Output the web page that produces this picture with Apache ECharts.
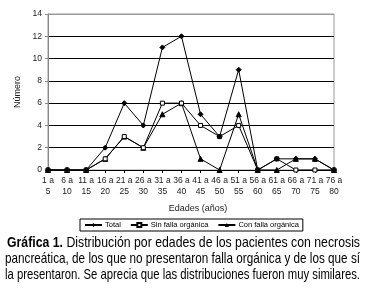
<!DOCTYPE html>
<html><head><meta charset="utf-8">
<script src="https://cdn.jsdelivr.net/npm/echarts@6/dist/echarts.min.js"></script>
<style>html,body{margin:0;padding:0;background:#fff}#c{width:365px;height:295px}</style>
</head><body><div id="c"></div>
<script>
var categories = ['1 a\n5','6 a\n10','11 a\n15','16 a\n20','21 a\n25','26 a\n30','31 a\n35','36 a\n40','41 a\n45','46 a\n50','51 a\n55','56 a\n60','61 a\n65','66 a\n70','71 a\n75','76 a\n80'];
var total      = [0,0,0,2,6,4,11,12,5,3,9,0,1,1,1,0];
var sinFalla   = [0,0,0,1,3,2,6,6,4,3,4,0,1,0,0,0];
var conFalla   = [0,0,0,1,3,2,5,6,1,0,5,0,0,1,1,0];
var yTicks = {min:0, max:14, interval:2};
var captionLines = [
  ['Gráfica 1.', ' Distribución por edades de los pacientes con necrosis'],
  ['', 'pancreática, de los que no presentaron falla orgánica y de los que sí'],
  ['', 'la presentaron. Se aprecia que las distribuciones fueron muy similares.']
];

var FONT = 'Liberation Sans, Arial, sans-serif';
var ctx = document.createElement('canvas').getContext('2d');
function w(t, f){ ctx.font = f; return ctx.measureText(t).width; }
var capSize = 14.5;
var bf = 'bold ' + capSize + 'px ' + FONT, nf = capSize + 'px ' + FONT;
var graphics = [];
var baselines = [250, 266, 282];
var lefts = [7, 5, 5], right = 360;
captionLines.forEach(function(l, i){
  var mw = w(l[0], bf) + w(l[1], nf);
  var sx = (right - lefts[i]) / mw;
  graphics.push({
    type: 'text', x: lefts[i], y: baselines[i], scaleX: sx,
    style: {
      text: (l[0] ? '{b|' + l[0] + '}' : '') + '{n|' + l[1] + '}',
      verticalAlign: 'bottom',
      rich: {
        b: {font: bf, fill: '#000'},
        n: {font: nf, fill: '#000'}
      }
    }
  });
});

var chart = echarts.init(document.getElementById('c'), null, {renderer:'canvas'});
chart.setOption({
  animation: false,
  backgroundColor: '#fff',
  grid: {left: 48, right: 31, top: 14, bottom: 125, show: true, borderColor: '#999', borderWidth: 1},
  legend: {
    left: 80, top: 219,
    itemWidth: 17, itemHeight: 5, itemGap: 9,
    padding: [2, 4],
    borderColor: '#000', borderWidth: 1,
    textStyle: {fontSize: 7.5, fontFamily: FONT, color: '#000', padding: [0,0,0,-2]},
    data: ['Total', 'Sin falla orgánica', 'Con falla orgánica']
  },
  xAxis: {
    type: 'category', data: categories, boundaryGap: false,
    name: 'Edades (años)', nameLocation: 'middle', nameGap: 34,
    nameTextStyle: {fontSize: 9, fontFamily: FONT, color: '#222', padding: [0,0,0,14]},
    axisLine: {lineStyle: {color: '#000', width: 1}},
    axisTick: {show: true, length: 3, lineStyle: {color: '#000'}},
    axisLabel: {fontSize: 8.5, fontFamily: FONT, color: '#222', lineHeight: 11, margin: 5, interval: 0},
    splitLine: {show: false}
  },
  yAxis: {
    type: 'value', min: yTicks.min, max: yTicks.max, interval: yTicks.interval,
    name: 'Número', nameLocation: 'middle', nameGap: 17, nameRotate: 90,
    nameTextStyle: {fontSize: 9, fontFamily: FONT, color: '#222'},
    axisLine: {show: true, lineStyle: {color: '#888'}},
    axisTick: {show: true, length: 3, lineStyle: {color: '#888'}},
    axisLabel: {fontSize: 8.5, fontFamily: FONT, color: '#222', margin: 6},
    splitLine: {show: true, lineStyle: {color: ['#000','#000','#000','#000','#000','#000','#000','#999'], width: 1}}
  },
  series: [
    {name: 'Total', type: 'line', data: total, symbol: 'diamond', symbolSize: 5,
     lineStyle: {color: '#000', width: 1}, itemStyle: {color: '#000', borderColor: '#000'}, z: 4},
    {name: 'Sin falla orgánica', type: 'line', data: sinFalla, symbol: 'rect', symbolSize: 4,
     lineStyle: {color: '#000', width: 1}, itemStyle: {color: '#fff', borderColor: '#000', borderWidth: 1}, z: 3},
    {name: 'Con falla orgánica', type: 'line', data: conFalla, symbol: 'triangle', symbolSize: 5,
     lineStyle: {color: '#000', width: 1}, itemStyle: {color: '#000', borderColor: '#000'}, z: 2}
  ],
  graphic: graphics
});
</script>
</body></html>
